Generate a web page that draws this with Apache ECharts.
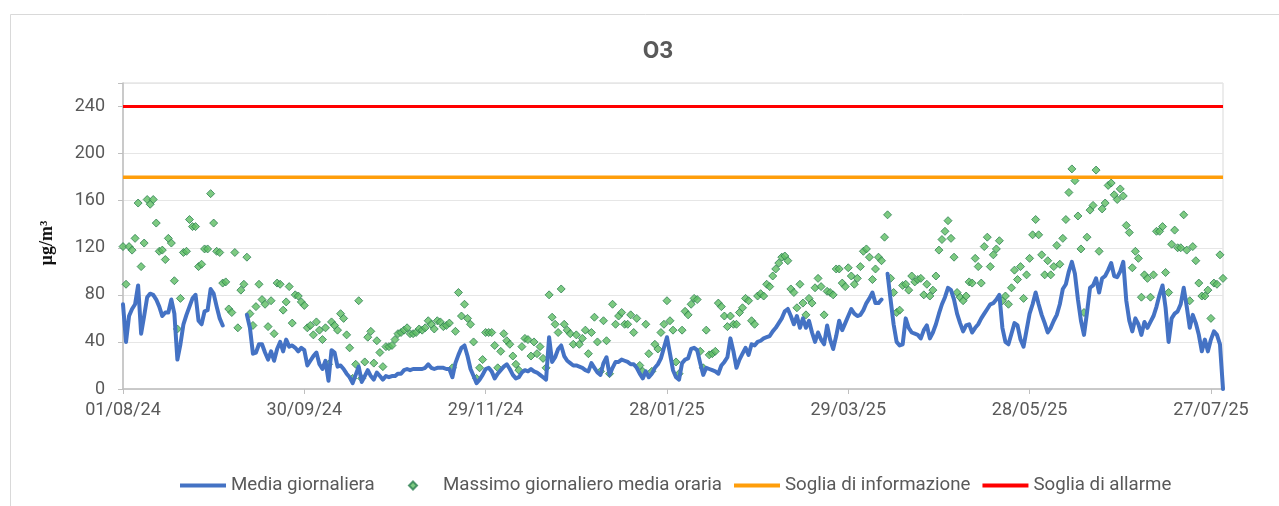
<!DOCTYPE html>
<html>
<head>
<meta charset="utf-8">
<script src="https://cdn.jsdelivr.net/npm/echarts@6/dist/echarts.min.js"></script>
<style>
html,body{margin:0;padding:0;background:#fff;}
#chart{width:1279px;height:506px;}
</style>
</head>
<body>
<div id="chart"></div>
<script>
// ---------------- DATA ----------------
const TITLE = 'O3';
const Y_NAME = 'µg/m³';
const START_DATE = [2024, 8, 1]; // 01/08/24
const N_DAYS = 365;
const LABEL_EVERY = 60; // an x label every 60 days
const Y_TICKS = [0, 40, 80, 120, 160, 200, 240];
const INFO_THRESHOLD = 180;
const ALARM_THRESHOLD = 240;
const SERIES_NAMES = ['Media giornaliera', 'Massimo giornaliero media oraria', 'Soglia di informazione', 'Soglia di allarme'];

// Media giornaliera (daily mean), one value per day from 01/08/24
const mediaGiornaliera = [
  72,40,62,68,72,88,47,62,78,81,
  80,76,70,62,65,65,76,64,25,38,
  55,63,70,77,80,58,55,66,67,85,
  81,70,60,54,null,null,null,null,null,null,
  null,63,52,30,31,38,38,31,25,32,
  24,34,40,32,42,36,37,35,32,35,
  33,20,24,28,31,21,17,24,7,33,
  31,19,20,17,13,10,5,12,19,6,
  11,16,11,8,14,11,8,11,10,11,
  11,13,13,16,17,16,17,17,17,17,
  18,21,18,17,18,18,18,17,17,10,
  22,29,35,37,28,17,11,5,8,12,
  17,18,15,9,13,16,19,21,17,12,
  9,10,14,16,15,17,15,14,12,10,
  8,44,23,27,34,37,28,24,22,20,
  20,19,18,16,15,22,18,14,12,22,
  27,12,18,23,23,25,24,23,21,21,
  18,13,9,15,10,13,18,21,26,35,
  44,30,16,10,8,22,25,26,34,35,
  33,22,12,18,17,16,15,13,20,23,
  27,43,32,18,25,30,35,29,38,37,
  40,41,43,44,45,49,52,56,60,66,
  68,62,55,62,52,60,52,58,48,40,
  48,42,38,54,42,34,45,58,50,56,
  62,68,64,62,63,67,73,77,82,73,
  73,76,null,98,76,55,40,37,38,60,
  52,48,47,46,43,50,54,43,48,55,
  64,72,78,86,84,76,64,56,49,54,
  55,48,52,55,60,64,68,72,73,76,
  80,52,40,38,47,56,54,42,36,50,
  64,72,82,72,63,56,48,52,58,63,
  72,85,89,100,108,98,76,58,46,65,
  86,88,94,82,94,96,101,107,96,95,
  100,108,75,58,49,60,55,46,57,52,
  57,62,70,80,88,69,40,60,64,66,
  72,86,70,52,63,56,46,32,42,32,
  42,49,46,38,0
];

// Massimo giornaliero media oraria (daily max of hourly mean)
const massimoGiornaliero = [
  121,89,121,118,128,158,104,124,161,157,
  161,141,117,118,110,128,124,92,51,77,
  116,117,144,138,138,104,106,119,119,166,
  141,117,116,90,91,68,65,116,52,84,
  89,112,64,54,70,89,76,72,53,75,
  47,90,89,67,74,87,56,80,79,74,
  71,52,54,46,57,50,42,52,21,57,
  54,50,64,60,46,35,9,21,75,9,
  23,44,49,22,41,31,19,36,36,37,
  42,47,48,50,52,47,47,48,51,50,
  52,58,55,51,58,57,53,54,56,18,
  49,82,62,72,60,55,40,9,18,25,
  48,48,48,37,18,32,47,41,38,28,
  21,16,36,43,42,28,40,30,36,26,
  18,80,61,55,48,85,55,50,47,38,
  46,38,43,50,30,48,61,40,15,58,
  41,13,72,55,62,65,55,55,63,48,
  60,20,15,55,30,15,38,34,48,55,
  75,58,50,23,13,50,66,63,72,77,
  76,32,18,50,29,30,32,73,70,62,
  53,62,55,55,65,69,77,75,58,55,
  79,81,79,89,87,96,102,107,112,113,
  109,85,82,69,89,73,63,77,73,86,
  94,87,63,83,82,80,102,102,90,87,
  103,96,89,94,104,117,119,112,93,102,
  112,109,129,148,94,82,65,67,88,89,
  84,96,91,93,94,80,89,79,84,96,
  118,127,134,143,128,112,82,78,75,79,
  91,90,111,104,90,121,129,104,114,119,
  126,75,79,72,86,101,93,104,77,97,
  111,131,144,131,114,97,109,97,104,122,
  106,128,144,167,187,177,147,119,65,129,
  152,156,186,117,153,158,173,175,165,161,
  170,164,139,133,103,117,111,78,97,94,
  78,97,134,134,138,99,82,123,135,120,
  120,148,118,75,121,109,90,79,79,84,
  60,90,89,114,94
];

// Category labels: one per day (dd/mm/yy)
const categories = [];
for (let i = 0; i < N_DAYS; i++) {
  const d = new Date(Date.UTC(START_DATE[0], START_DATE[1] - 1, START_DATE[2] + i));
  const dd = String(d.getUTCDate()).padStart(2, '0');
  const mm = String(d.getUTCMonth() + 1).padStart(2, '0');
  const yy = String(d.getUTCFullYear()).slice(2);
  categories.push(dd + '/' + mm + '/' + yy);
}
const firstCat = categories[0];
const lastCat = categories[categories.length - 1];

// ---------------- CHART ----------------
const chart = echarts.init(document.getElementById('chart'), null, {renderer: 'canvas'});
const FONT = 'Roboto, "Liberation Sans", sans-serif';
const TEXT_COLOR = '#595959';
const BLUE = '#4472C4', ORANGE = '#FF9E0B', RED = '#FF0000';
const GREEN_FILL = '#5dbd62', GREEN_BORDER = '#2e7f52';
const legendText = {fontSize: 18.7, color: TEXT_COLOR, fontFamily: FONT};
const everyN = (i) => i % LABEL_EVERY === 0;

const option = {
  animation: false,
  backgroundColor: '#ffffff',
  graphic: [
    {type: 'rect', z: -10, shape: {x: 10.5, y: 14.5, width: 1300, height: 600},
      style: {fill: 'none', stroke: '#d9d9d9', lineWidth: 1}},
    {type: 'text', x: 658, y: 52,
      style: {text: TITLE, font: 'bold 24px ' + FONT, fill: TEXT_COLOR, align: 'center', verticalAlign: 'middle'}},
    {type: 'text', x: 47, y: 243, rotation: Math.PI / 2,
      style: {text: Y_NAME, font: 'bold 18px "Liberation Serif", "DejaVu Serif", serif', fill: '#111', align: 'center', verticalAlign: 'middle'}}
  ],
  grid: {left: 123, right: 56, top: 83, bottom: 117, show: true, borderColor: '#d9d9d9', borderWidth: 1, containLabel: false},
  legend: [
    {left: 175, top: 471, itemWidth: 46, itemHeight: 4, icon: 'rect', textStyle: legendText,
      data: [SERIES_NAMES[0]]},
    {left: 403, top: 471, itemWidth: 8, itemHeight: 8, icon: 'diamond',
      textStyle: Object.assign({padding: [0, 0, 0, 21]}, legendText),
      data: [SERIES_NAMES[1]]},
    {left: 729, top: 471, itemWidth: 46, itemHeight: 4, itemGap: 12, icon: 'rect', textStyle: legendText,
      data: [SERIES_NAMES[2], SERIES_NAMES[3]]}
  ],
  xAxis: {
    type: 'category',
    data: categories,
    boundaryGap: false,
    axisLine: {lineStyle: {color: '#bfbfbf', width: 1.5}},
    axisTick: {show: true, interval: everyN, length: 5, lineStyle: {color: '#bfbfbf'}},
    axisLabel: {interval: everyN, fontSize: 18, color: TEXT_COLOR, fontFamily: FONT, margin: 12, hideOverlap: false},
    splitLine: {show: false}
  },
  yAxis: {
    type: 'value',
    min: 0, max: 260, interval: 40,
    axisLine: {show: true, lineStyle: {color: '#bfbfbf', width: 1.5}},
    axisTick: {show: true, length: 5, lineStyle: {color: '#bfbfbf'}},
    axisLabel: {fontSize: 18, color: TEXT_COLOR, fontFamily: FONT, margin: 18,
      formatter: v => (Y_TICKS.indexOf(v) >= 0 ? String(v) : '')},
    splitLine: {show: true, lineStyle: {color: '#e6e6e6', width: 1}}
  },
  series: [
    {
      name: SERIES_NAMES[0], type: 'line', data: mediaGiornaliera,
      symbol: 'none', showSymbol: false, connectNulls: false,
      lineStyle: {color: BLUE, width: 4, join: 'round', cap: 'round'},
      itemStyle: {color: BLUE}
    },
    {
      name: SERIES_NAMES[1], type: 'scatter', data: massimoGiornaliero,
      symbol: 'diamond', symbolSize: 8,
      itemStyle: {color: GREEN_FILL, borderColor: GREEN_BORDER, borderWidth: 1}
    },
    {
      name: SERIES_NAMES[2], type: 'line',
      data: [[firstCat, INFO_THRESHOLD], [lastCat, INFO_THRESHOLD]],
      symbol: 'none', showSymbol: false,
      lineStyle: {color: ORANGE, width: 3.5}, itemStyle: {color: ORANGE}
    },
    {
      name: SERIES_NAMES[3], type: 'line',
      data: [[firstCat, ALARM_THRESHOLD], [lastCat, ALARM_THRESHOLD]],
      symbol: 'none', showSymbol: false,
      lineStyle: {color: RED, width: 3}, itemStyle: {color: RED}
    }
  ]
};
chart.setOption(option);
</script>
</body>
</html>
